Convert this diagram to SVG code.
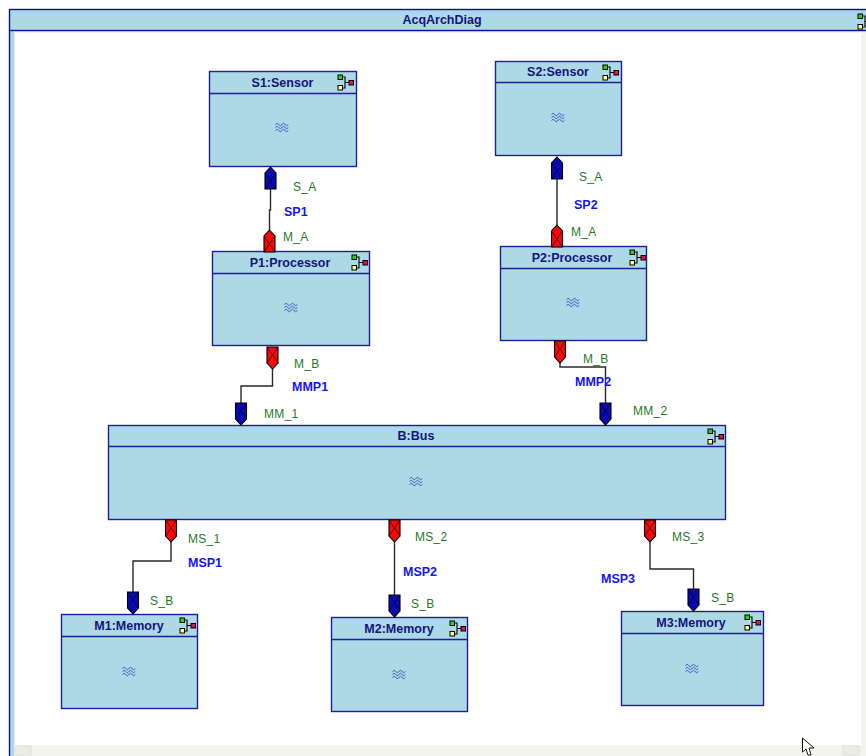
<svg xmlns="http://www.w3.org/2000/svg" width="866" height="756" viewBox="0 0 866 756">
<style>
.body{fill:#add8e6;stroke:#1e1e96;stroke-width:1.4}
.hd{fill:none;stroke:#1e1e96;stroke-width:1.4}
.title{font:bold 12.5px "Liberation Sans",Arial,sans-serif;fill:#14147d;text-anchor:middle}
.pl{font:12px "Liberation Sans",Arial,sans-serif;fill:#1f7a1f;letter-spacing:.3px}
.cl{font:bold 12.5px "Liberation Sans",Arial,sans-serif;fill:#1414f5}
.wire{fill:none;stroke:#2a2a2a;stroke-width:1.4}
.wave{fill:none;stroke:#3a4cb8;stroke-width:.9}
.pb{stroke:#000;stroke-width:1.1}
.x{stroke:#000;stroke-width:.6;fill:none}
</style>
<defs>
<g id="icon">
<path d="M4.500,0H7V11H4.500M7,5.500H11" fill="none" stroke="#000" stroke-width="1.1"/>
<rect x="0" y="-2" width="4.500" height="4.500" fill="#10e010" stroke="#000" stroke-width="1"/>
<rect x="0" y="8.500" width="4.500" height="4.500" fill="#ffff80" stroke="#000" stroke-width="1"/>
<rect x="11" y="3.500" width="4.500" height="4.500" fill="#e0105a" stroke="#000" stroke-width="1"/>
</g>
<g id="wave">
<path class="wave" d="M-6.500,-2.500q1.600,-2.500 3.200,0t3.200,0t3.200,0t3.200,0M-6.500,0.500q1.600,-2.500 3.200,0t3.200,0t3.200,0t3.200,0M-6.500,3.500q1.600,-2.500 3.200,0t3.200,0t3.200,0t3.200,0"/>
</g>
<g id="up">
<path class="pb" d="M0,0L5.500,6V22H-5.500V6Z"/>
<path class="x" d="M-5.500,6L5.500,22M5.500,6L-5.500,22"/>
</g>
<g id="down">
<path class="pb" d="M-5.500,0H5.500V16L0,22L-5.500,16Z"/>
<path class="x" d="M-5.500,0L5.500,16M5.500,0L-5.500,16"/>
</g>
</defs>
<rect width="866" height="756" fill="#fff"/>
<g id="frame">
<rect x="9.500" y="30" width="5" height="726" fill="#add8e6"/>
<rect x="14.500" y="30" width="851" height="2.500" fill="#dcebf4"/>
<rect x="14" y="745" width="852" height="11" fill="#f4f4ee"/>
<rect x="15" y="746" width="16" height="9" fill="#ecece4" stroke="#dedfd6"/>
<rect x="843" y="746" width="16" height="9" fill="#ecece4" stroke="#dedfd6"/>
<rect x="861" y="32" width="5" height="713" fill="#f4f4ee"/>
<rect x="9.500" y="9.500" width="870" height="21" fill="#add8e6" stroke="#10108f" stroke-width="1.400"/>
<path d="M9.500,30V756" stroke="#10108f" stroke-width="1.400"/>
<text class="title" x="442" y="24">AcqArchDiag</text>
<use href="#icon" x="858" y="16"/>
</g>
<g id="connectors">
<path class="wire" d="M270.500,189V210H269.500V230"/>
<path class="wire" d="M557,178V226"/>
<path class="wire" d="M272.500,368V386H241V403"/>
<path class="wire" d="M560,362V367H605.500V403"/>
<path class="wire" d="M171,541V561H133V592"/>
<path class="wire" d="M394.500,541V595"/>
<path class="wire" d="M650,541V569H693.500V589"/>
</g>
<g id="S1"><rect class="body" x="209.500" y="71.500" width="147" height="95"/><path class="hd" d="M209.500,93.500H356.500"/><text class="title" x="282.500" y="87">S1:Sensor</text><use href="#icon" x="338" y="77"/><use href="#wave" x="282" y="127"/></g>
<g id="S2"><rect class="body" x="495.500" y="61.500" width="126" height="94"/><path class="hd" d="M495.500,82.500H621.500"/><text class="title" x="558" y="76">S2:Sensor</text><use href="#icon" x="603" y="67"/><use href="#wave" x="558" y="117"/></g>
<g id="P1"><rect class="body" x="212.500" y="251.500" width="157" height="94"/><path class="hd" d="M212.500,273.500H369.500"/><text class="title" x="290" y="267">P1:Processor</text><use href="#icon" x="352" y="257"/><use href="#wave" x="291" y="307"/></g>
<g id="P2"><rect class="body" x="500.500" y="246.500" width="146" height="94"/><path class="hd" d="M500.500,268.500H646.500"/><text class="title" x="572" y="262">P2:Processor</text><use href="#icon" x="630" y="252"/><use href="#wave" x="573" y="302"/></g>
<g id="B"><rect class="body" x="108.500" y="425.500" width="617" height="94"/><path class="hd" d="M108.500,446.500H725.500"/><text class="title" x="416" y="440">B:Bus</text><use href="#icon" x="708" y="431"/><use href="#wave" x="416" y="481"/></g>
<g id="M1"><rect class="body" x="61.500" y="614.500" width="136" height="94"/><path class="hd" d="M61.500,636.500H197.500"/><text class="title" x="129" y="630">M1:Memory</text><use href="#icon" x="180" y="620"/><use href="#wave" x="129" y="671"/></g>
<g id="M2"><rect class="body" x="331.500" y="617.500" width="136" height="94"/><path class="hd" d="M331.500,639.500H467.500"/><text class="title" x="399" y="633">M2:Memory</text><use href="#icon" x="450" y="623"/><use href="#wave" x="399" y="674"/></g>
<g id="M3"><rect class="body" x="621.500" y="611.500" width="142" height="94"/><path class="hd" d="M621.500,633.500H763.500"/><text class="title" x="691" y="627">M3:Memory</text><use href="#icon" x="745" y="617"/><use href="#wave" x="692" y="668"/></g>
<g id="ports">
<use href="#up" x="270.500" y="167" fill="#0a0ab4"/>
<use href="#up" x="269.500" y="230" fill="#f80808"/>
<use href="#up" x="557" y="157" fill="#0a0ab4"/>
<use href="#up" x="557" y="225" fill="#f80808"/>
<use href="#down" x="272.500" y="347" fill="#f80808"/>
<use href="#down" x="560" y="341" fill="#f80808"/>
<use href="#down" x="241" y="403" fill="#0a0ab4"/>
<use href="#down" x="605.500" y="403" fill="#0a0ab4"/>
<use href="#down" x="171" y="520" fill="#f80808"/>
<use href="#down" x="394.500" y="520" fill="#f80808"/>
<use href="#down" x="650" y="520" fill="#f80808"/>
<use href="#down" x="133" y="592" fill="#0a0ab4"/>
<use href="#down" x="394.500" y="595" fill="#0a0ab4"/>
<use href="#down" x="693.500" y="589" fill="#0a0ab4"/>
</g>
<g id="port-labels">
<text class="pl" x="293" y="191">S_A</text>
<text class="pl" x="283" y="241">M_A</text>
<text class="pl" x="579" y="181">S_A</text>
<text class="pl" x="571" y="236">M_A</text>
<text class="pl" x="294" y="368">M_B</text>
<text class="pl" x="583" y="363">M_B</text>
<text class="pl" x="264" y="418">MM_1</text>
<text class="pl" x="633" y="415">MM_2</text>
<text class="pl" x="188" y="543">MS_1</text>
<text class="pl" x="415" y="541">MS_2</text>
<text class="pl" x="672" y="541">MS_3</text>
<text class="pl" x="150" y="605">S_B</text>
<text class="pl" x="411" y="608">S_B</text>
<text class="pl" x="711" y="602">S_B</text>
</g>
<g id="connector-labels">
<text class="cl" x="284" y="216">SP1</text>
<text class="cl" x="574" y="209">SP2</text>
<text class="cl" x="292" y="391">MMP1</text>
<text class="cl" x="575" y="386">MMP2</text>
<text class="cl" x="188" y="567">MSP1</text>
<text class="cl" x="403" y="576">MSP2</text>
<text class="cl" x="601" y="583">MSP3</text>
</g>
<g id="cursor"><path d="M802.500,738V752L806,749L808,755H811L809,748H814Z" fill="#fff" stroke="#111" stroke-width="1"/></g>
</svg>
